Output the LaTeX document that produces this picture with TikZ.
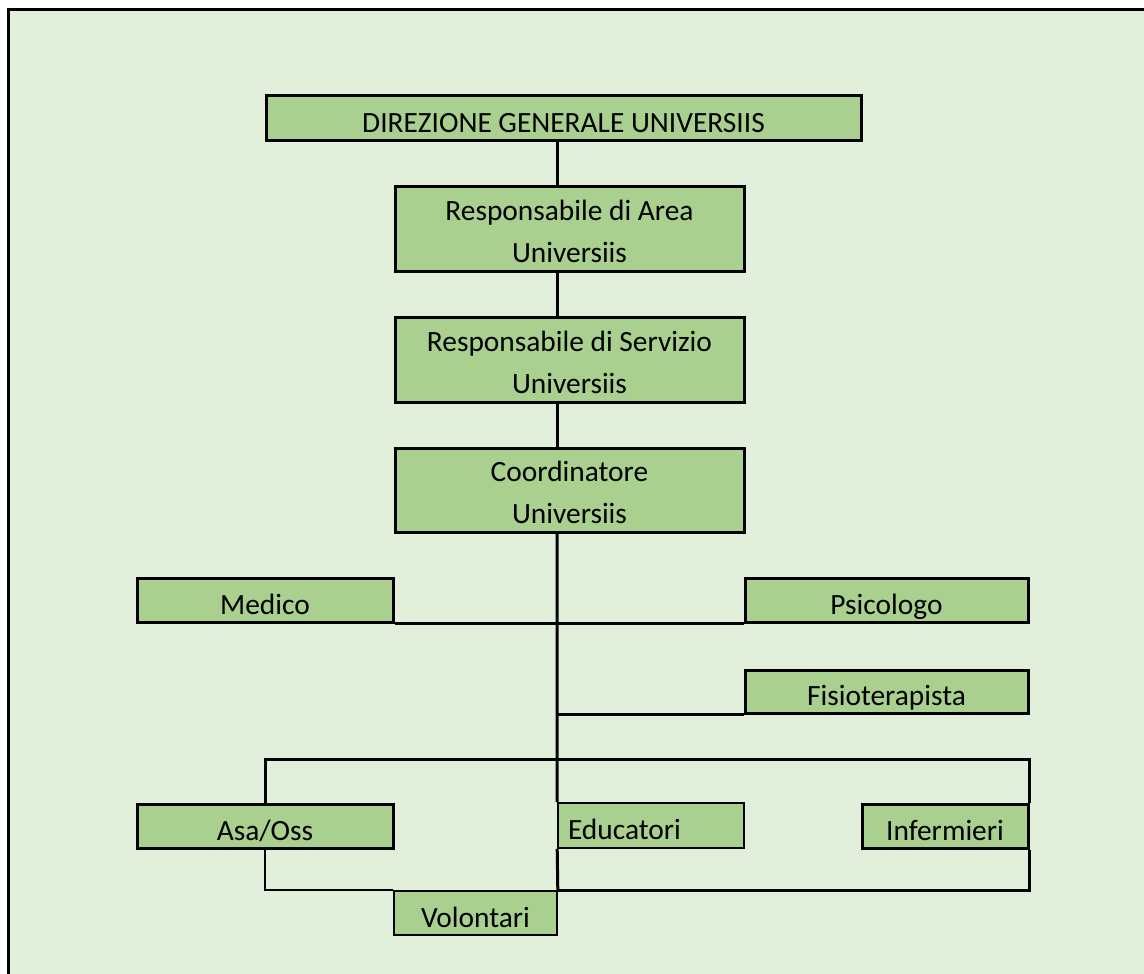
\documentclass[tikz,border=0pt]{standalone}
\usepackage{fontspec}
\setmainfont{Carlito}
\definecolor{pagegreen}{HTML}{E2EFDA}
\definecolor{boxgreen}{HTML}{A9D08E}
\tikzset{
  rolebox/.style={draw,line width=3pt,fill=boxgreen,inner sep=0pt,align=center},
  twobox/.style={rolebox,text height=68pt,text depth=1pt},
  onebox/.style={rolebox,text height=30pt,text depth=2pt},
  thinbox/.style={onebox,line width=1.6pt},
  link/.style={line width=3pt},
  thinlink/.style={line width=1.8pt}
}
\begin{document}
\begin{tikzpicture}[x=1pt,y=-1pt,line join=miter,font=\fontsize{29.4}{42}\selectfont]
	\useasboundingbox (0,0) rectangle (1144,974);
	\fill [pagegreen] (8,10) rectangle (1150,980);
	\draw [line width=3pt] (8,980)--(8,10)--(1150,10);
	\coordinate (spine) at (557,0);
	\coordinate (bar) at (0,759);
	% top of the chart
	\node [onebox,minimum width=595pt,minimum height=44pt] (dir) at (563.5,118) {DIREZIONE GENERALE UNIVERSIIS};
	\node [twobox,minimum width=349pt,minimum height=85pt] (area) at (569.5,228.5) {Responsabile di Area\\Universiis};
	\node [twobox,minimum width=349pt,minimum height=85pt] (serv) at (569.5,359.5) {Responsabile di Servizio\\Universiis};
	\node [twobox,minimum width=349pt,minimum height=84pt] (coord) at (569.5,490) {Coordinatore\\Universiis};
	% staff
	\node [onebox,minimum width=256pt,minimum height=44pt] (medico) at (265,600) {Medico};
	\node [onebox,minimum width=283pt,minimum height=44pt] (psico) at (886.5,600) {Psicologo};
	\node [onebox,minimum width=283pt,minimum height=43pt] (fisio) at (886.5,691.5) {Fisioterapista};
	\node [onebox,minimum width=256pt,minimum height=44pt] (asa) at (265,826) {Asa/Oss};
	\node [thinbox,minimum width=186pt,minimum height=45pt,text width=166pt,align=left] (edu) at (651,825.5) {Educatori};
	\node [onebox,minimum width=166pt,minimum height=44pt] (inf) at (945,826) {Infermieri};
	\node [thinbox,minimum width=163pt,minimum height=44pt] (vol) at (475.5,913) {Volontari};
	% connectors
	\draw [link] (dir.south -| spine)--(area.north -| spine) (area.south -| spine)--(serv.north -| spine) (serv.south -| spine)--(coord.north -| spine);
	\draw [link] (coord.south -| spine)--(edu.north west) (edu.south west)--(vol.north east);
	\draw [link] (medico.south east)--(psico.south west) (fisio.south west)--(fisio.south west -| spine);
	\draw [link] (asa.north)--(asa.north |- bar)-|(inf.north east);
	\draw [thinlink] (asa.south)|-(vol.north west);
	\draw [link] (vol.north east)-|(inf.south east);
\end{tikzpicture}
\end{document}
